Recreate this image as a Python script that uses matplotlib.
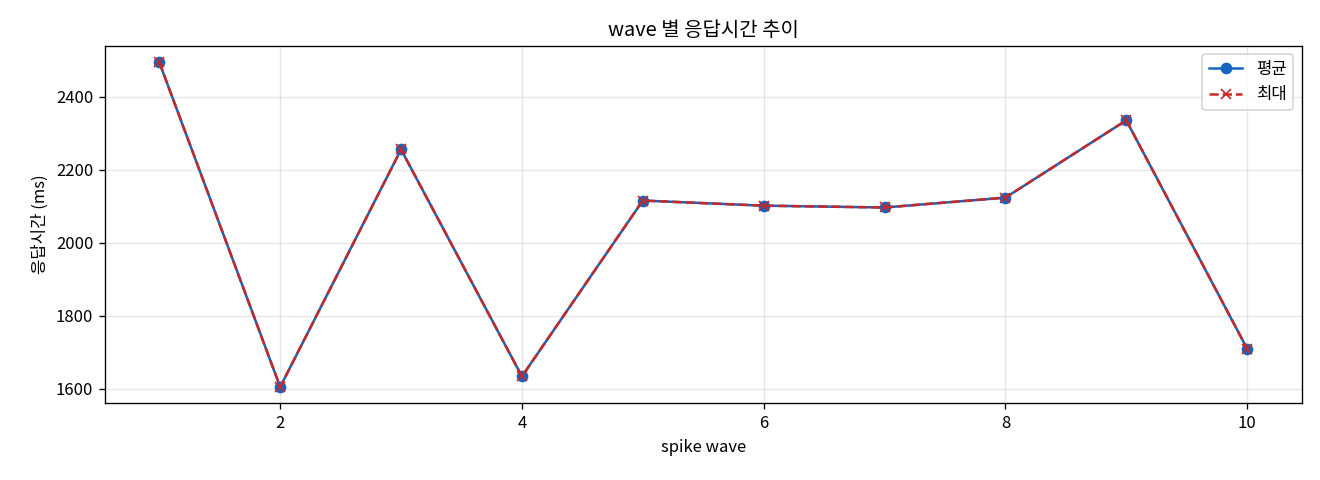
import matplotlib
matplotlib.use('Agg')
import matplotlib.pyplot as plt

plt.rcParams['font.family'] = ['Noto Sans CJK KR', 'DejaVu Sans']
plt.rcParams['axes.unicode_minus'] = False

waves = [1, 2, 3, 4, 5, 6, 7, 8, 9, 10]
avg_ms = [2495, 1605, 2256, 1634, 2116, 2102, 2097, 2124, 2336, 1710]
max_ms = [2495, 1605, 2256, 1634, 2116, 2102, 2097, 2124, 2336, 1710]

fig, ax = plt.subplots(figsize=(11, 4), dpi=120)
ax.plot(waves, avg_ms, marker='o', color='#1565c0', label='평균')
ax.plot(waves, max_ms, marker='x', linestyle='--', color='#c62828', label='최대')

ax.set_title('wave 별 응답시간 추이')
ax.set_xlabel('spike wave')
ax.set_ylabel('응답시간 (ms)')
ax.grid(True, alpha=0.3)
ax.legend(loc='upper right')

# 축 위치를 원본과 맞춤
plt.subplots_adjust(left=0.0795, right=0.986, top=0.904, bottom=0.16)
plt.savefig('out.png')
